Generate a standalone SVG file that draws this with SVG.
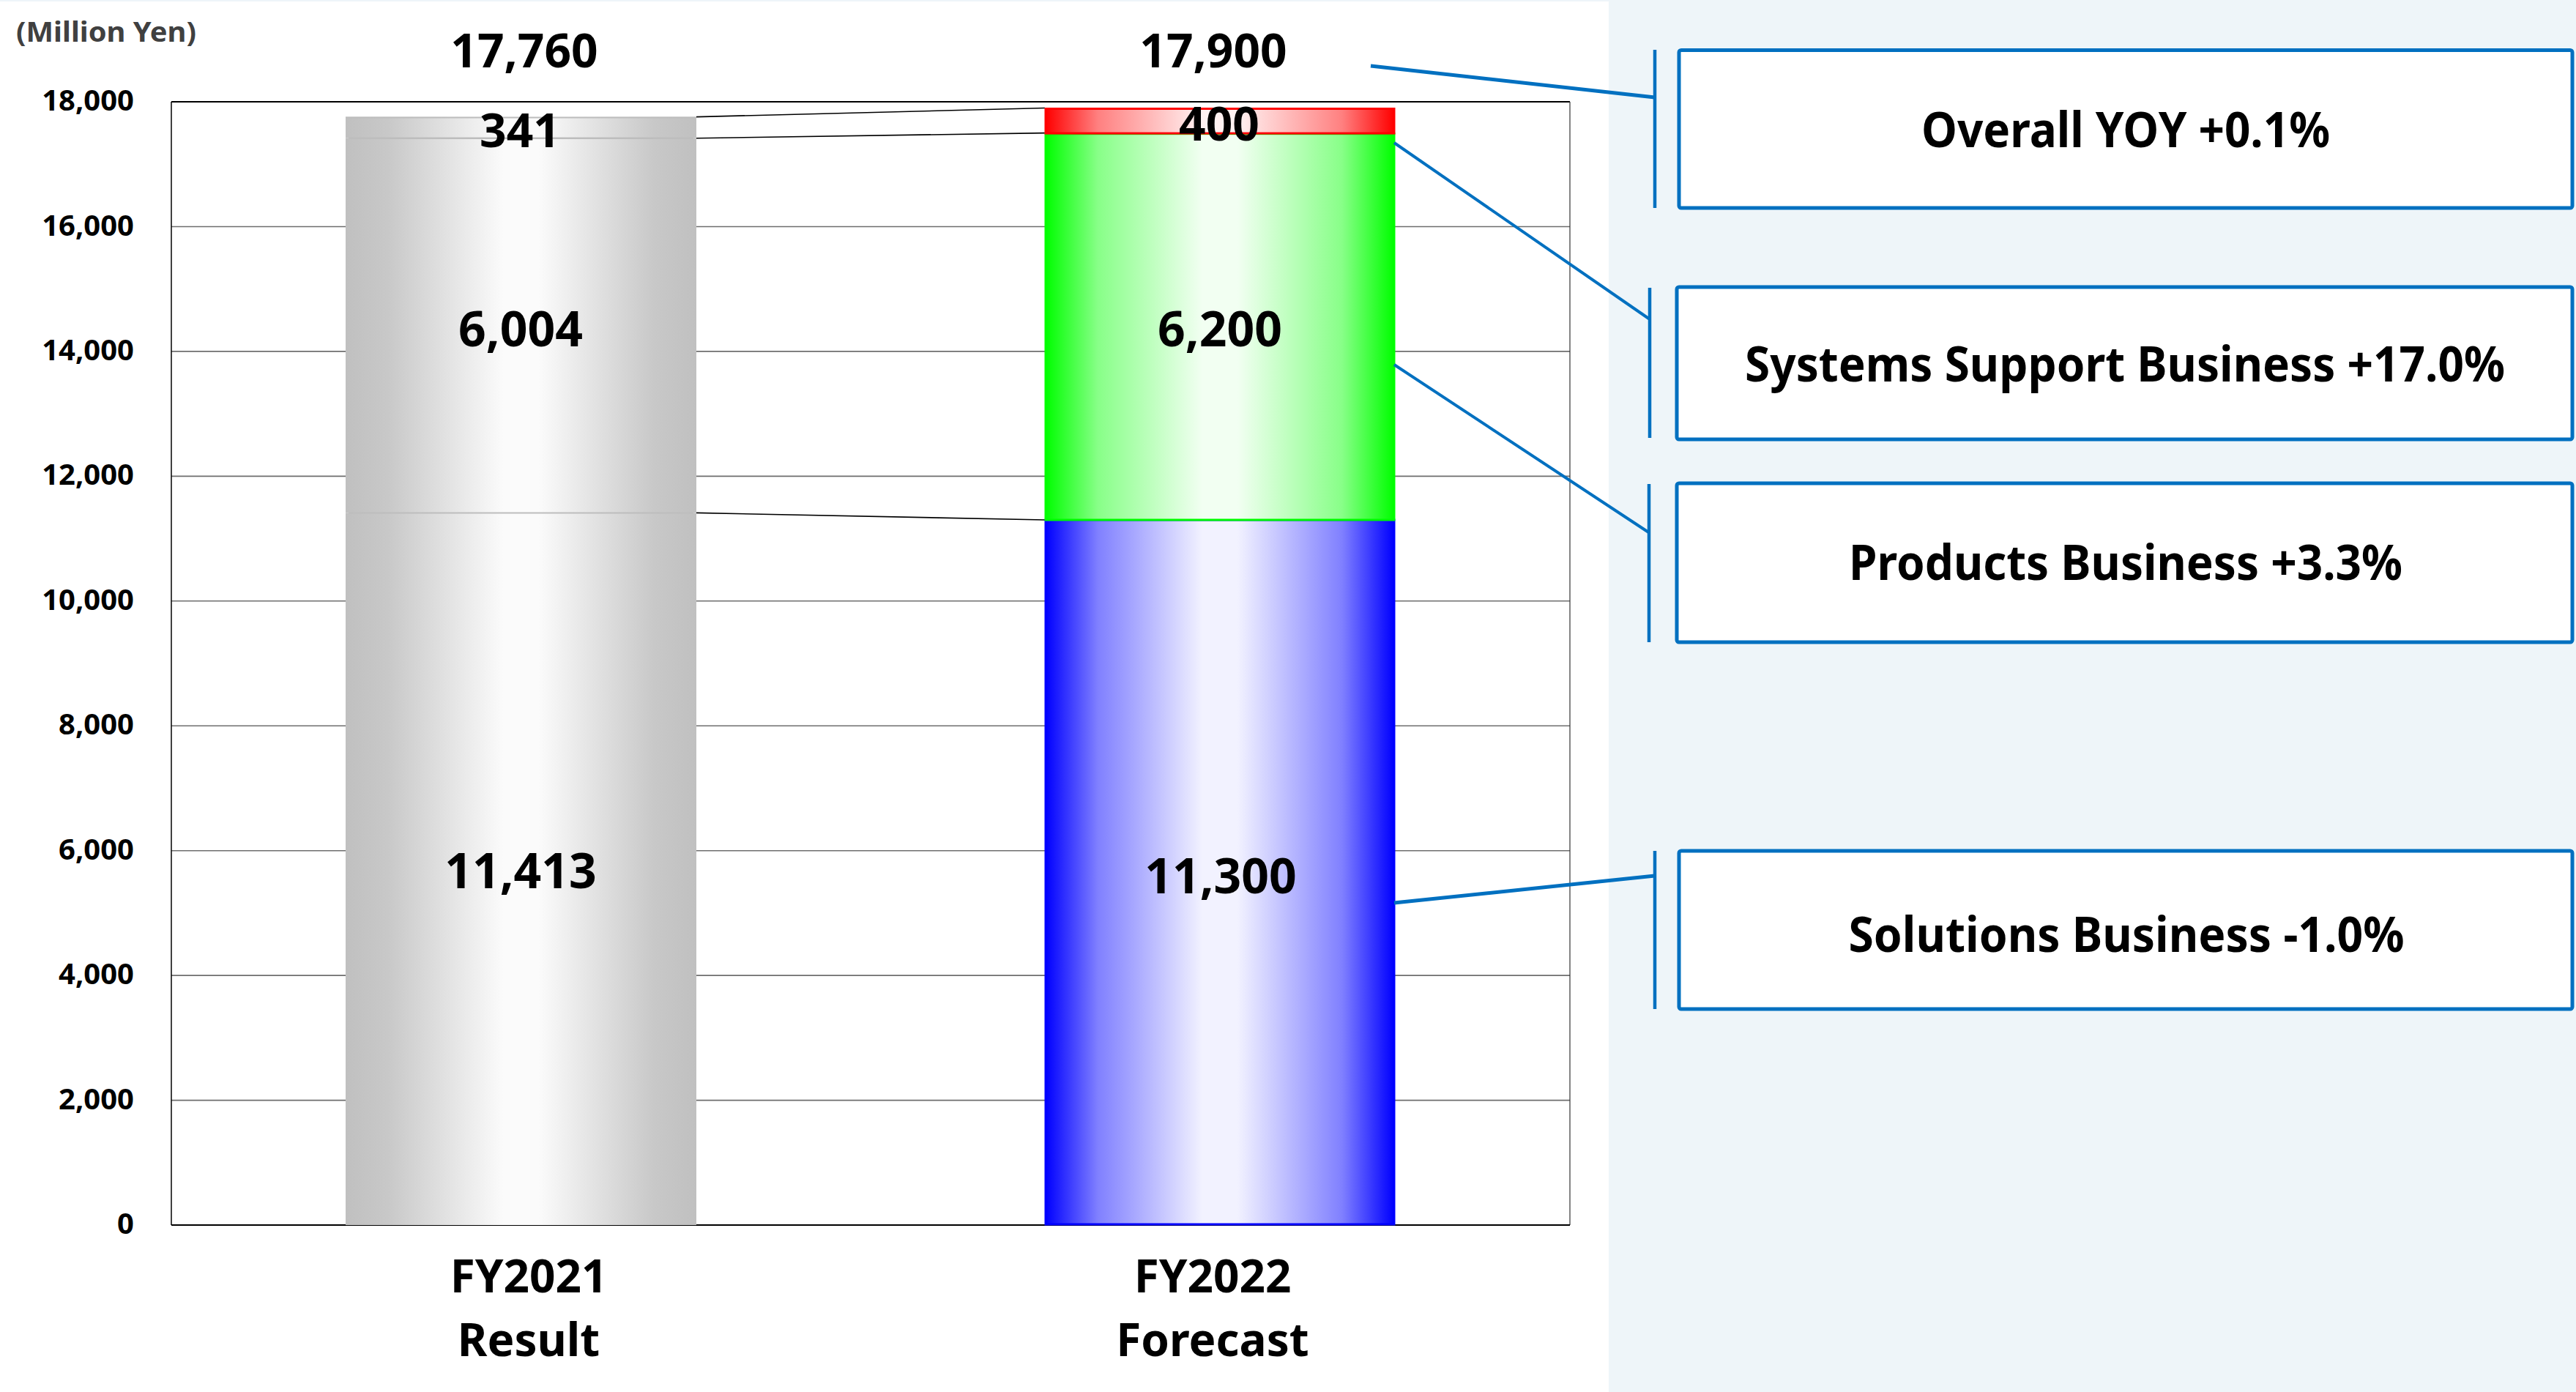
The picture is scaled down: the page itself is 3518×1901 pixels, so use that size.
<svg xmlns="http://www.w3.org/2000/svg" width="3518" height="1901" viewBox="0 0 3518 1901">
<defs>
<linearGradient id="gGray" x1="0" y1="0" x2="1" y2="0">
<stop offset="0" stop-color="#C0C0C0"/><stop offset="0.12" stop-color="#C8C8C8"/><stop offset="0.45" stop-color="#FBFBFB"/><stop offset="0.55" stop-color="#FBFBFB"/><stop offset="0.88" stop-color="#C8C8C8"/><stop offset="1" stop-color="#C0C0C0"/>
</linearGradient>
<linearGradient id="gBlue" x1="0" y1="0" x2="1" y2="0">
<stop offset="0" stop-color="#0000FF"/><stop offset="0.15" stop-color="#8080FF"/><stop offset="0.45" stop-color="#F2F2FF"/><stop offset="0.55" stop-color="#F2F2FF"/><stop offset="0.85" stop-color="#8080FF"/><stop offset="1" stop-color="#0000FF"/>
</linearGradient>
<linearGradient id="gGreen" x1="0" y1="0" x2="1" y2="0">
<stop offset="0" stop-color="#00FF00"/><stop offset="0.15" stop-color="#88FF88"/><stop offset="0.45" stop-color="#F2FFF2"/><stop offset="0.55" stop-color="#F2FFF2"/><stop offset="0.85" stop-color="#88FF88"/><stop offset="1" stop-color="#00FF00"/>
</linearGradient>
<linearGradient id="gRed" x1="0" y1="0" x2="1" y2="0">
<stop offset="0" stop-color="#FF0000"/><stop offset="0.15" stop-color="#FF8080"/><stop offset="0.45" stop-color="#FFF2F2"/><stop offset="0.55" stop-color="#FFF2F2"/><stop offset="0.85" stop-color="#FF8080"/><stop offset="1" stop-color="#FF0000"/>
</linearGradient>
</defs>
<style>
text{font-family:"Noto Sans","Open Sans","Liberation Sans",sans-serif;font-weight:bold;fill:#000}
.ylab{font-size:40px;text-anchor:end}
.val{font-size:66px;text-anchor:middle}
.tot{font-size:64px;text-anchor:middle}
.xlab{font-size:62px;text-anchor:middle}
.box{fill:#FFFFFF;stroke:#0070C0;stroke-width:5}
.btxt{font-size:66px;text-anchor:middle}
.grid{stroke:#6E6E6E;stroke-width:1.6}
.lead{stroke:#0070C0;fill:none}
.brk{stroke:#0070C0;stroke-width:4.5}
.ser{stroke:#000;stroke-width:1.6}
</style>
<rect x="0" y="0" width="3518" height="1901" fill="#EEF5F9"/>
<rect x="0" y="2" width="2197" height="1899" fill="#FFFFFF"/>
<g id="chart">
<text x="22" y="57" style="font-size:37px;fill:#404040" textLength="246" lengthAdjust="spacingAndGlyphs">(Million Yen)</text>
<g id="gridlines">
<line class="grid" x1="234" y1="1502.6" x2="2144" y2="1502.6"/>
<line class="grid" x1="234" y1="1332.1" x2="2144" y2="1332.1"/>
<line class="grid" x1="234" y1="1161.7" x2="2144" y2="1161.7"/>
<line class="grid" x1="234" y1="991.2" x2="2144" y2="991.2"/>
<line class="grid" x1="234" y1="820.8" x2="2144" y2="820.8"/>
<line class="grid" x1="234" y1="650.4" x2="2144" y2="650.4"/>
<line class="grid" x1="234" y1="479.9" x2="2144" y2="479.9"/>
<line class="grid" x1="234" y1="309.5" x2="2144" y2="309.5"/>
<line x1="234" y1="139" x2="2144" y2="139" stroke="#000" stroke-width="1.8"/>
<line x1="2144" y1="139" x2="2144" y2="1673" stroke="#333" stroke-width="1.2"/>
<line x1="234" y1="139" x2="234" y2="1673" stroke="#000" stroke-width="1.5"/>
<line x1="234" y1="1673" x2="2144" y2="1673" stroke="#000" stroke-width="2.2"/>
</g>
<g id="yaxis">
<text class="ylab" x="183" y="1685">0</text>
<text class="ylab" x="183" y="1514.6">2,000</text>
<text class="ylab" x="183" y="1344.1">4,000</text>
<text class="ylab" x="183" y="1173.7">6,000</text>
<text class="ylab" x="183" y="1003.2">8,000</text>
<text class="ylab" x="183" y="832.8">10,000</text>
<text class="ylab" x="183" y="662.4">12,000</text>
<text class="ylab" x="183" y="491.9">14,000</text>
<text class="ylab" x="183" y="321.5">16,000</text>
<text class="ylab" x="183" y="151">18,000</text>
</g>
<g id="series-lines">
<line class="ser" x1="951" y1="159.6" x2="1427" y2="147.5"/>
<line class="ser" x1="951" y1="188.7" x2="1427" y2="181.6"/>
<line class="ser" x1="951" y1="700.4" x2="1427" y2="710"/>
</g>
</g>
<g id="bar-fy2021">
<rect x="472" y="700.4" width="479" height="972.6" fill="url(#gGray)"/>
<rect x="472" y="188.7" width="479" height="511.7" fill="url(#gGray)"/>
<rect x="472" y="159.6" width="479" height="29.1" fill="url(#gGray)"/>
<line x1="476" y1="700.4" x2="947" y2="700.4" stroke="#BDBDBD" stroke-width="2"/>
<line x1="476" y1="188.7" x2="947" y2="188.7" stroke="#BDBDBD" stroke-width="2.5"/>
<line x1="472" y1="160.6" x2="951" y2="160.6" stroke="#BDBDBD" stroke-width="2"/>
<text class="val" x="711" y="1213">11,413</text>
<text class="val" x="711" y="473">6,004</text>
<text class="tot" x="710" y="201">341</text>
<text class="tot" x="716" y="92">17,760</text>
</g>
<g id="bar-fy2022">
<rect x="1428" y="710" width="476" height="962" fill="url(#gBlue)" stroke="#0000FF" stroke-width="3"/>
<rect x="1428" y="182.6" width="476" height="527.4" fill="url(#gGreen)" stroke="#00FF00" stroke-width="3"/>
<rect x="1428" y="148.5" width="476" height="33.6" fill="url(#gRed)" stroke="#FF0000" stroke-width="3"/>
<text class="val" x="1667" y="1220">11,300</text>
<text class="val" x="1666" y="473">6,200</text>
<text class="tot" x="1665" y="192">400</text>
<text class="tot" x="1657" y="92">17,900</text>
</g>
<g id="xaxis">
<text class="xlab" x="722" y="1765">FY2021</text>
<text class="xlab" x="722" y="1852">Result</text>
<text class="xlab" x="1656" y="1765">FY2022</text>
<text class="xlab" x="1656" y="1852">Forecast</text>
</g>
<g id="connectors">
<line class="lead" x1="1872" y1="90" x2="2260" y2="133" stroke-width="5"/>
<line class="lead" x1="1904" y1="195" x2="2253" y2="436" stroke-width="4"/>
<line class="lead" x1="1904" y1="498" x2="2253" y2="728" stroke-width="4"/>
<line class="lead" x1="1904" y1="1233" x2="2260" y2="1196" stroke-width="5"/>
</g>
<g id="callout-overall">
<line class="brk" x1="2260" y1="68" x2="2260" y2="284"/>
<rect class="box" x="2293" y="68.5" width="1220" height="215.5" rx="3"/>
<text class="btxt" x="2903" y="201" textLength="558" lengthAdjust="spacingAndGlyphs">Overall YOY +0.1%</text>
</g>
<g id="callout-systems">
<line class="brk" x1="2253" y1="393" x2="2253" y2="598"/>
<rect class="box" x="2290" y="392" width="1223" height="208" rx="3"/>
<text class="btxt" x="2902" y="521" textLength="1038" lengthAdjust="spacingAndGlyphs">Systems Support Business +17.0%</text>
</g>
<g id="callout-products">
<line class="brk" x1="2252" y1="661" x2="2252" y2="877"/>
<rect class="box" x="2290" y="660" width="1223" height="217" rx="3"/>
<text class="btxt" x="2903" y="792" textLength="756" lengthAdjust="spacingAndGlyphs">Products Business +3.3%</text>
</g>
<g id="callout-solutions">
<line class="brk" x1="2260" y1="1162" x2="2260" y2="1378"/>
<rect class="box" x="2293" y="1162" width="1220" height="216" rx="3"/>
<text class="btxt" x="2904" y="1300" textLength="759" lengthAdjust="spacingAndGlyphs">Solutions Business -1.0%</text>
</g>
</svg>
